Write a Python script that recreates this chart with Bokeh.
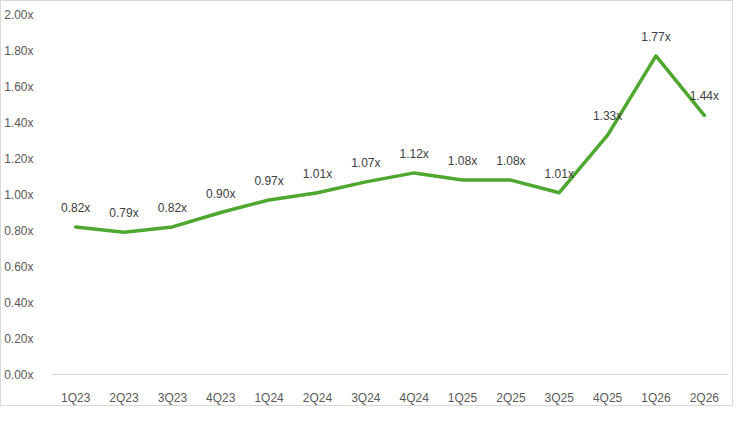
from bokeh.plotting import figure
from bokeh.models import ColumnDataSource, FactorRange, Range1d, FixedTicker, CustomJSTickFormatter, LabelSet
from bokeh.core.properties import value
from bokeh.embed import file_html
from bokeh.resources import INLINE

quarters = ["1Q23", "2Q23", "3Q23", "4Q23", "1Q24", "2Q24", "3Q24", "4Q24",
            "1Q25", "2Q25", "3Q25", "4Q25", "1Q26", "2Q26"]
multiples = [0.82, 0.79, 0.82, 0.90, 0.97, 1.01, 1.07, 1.12,
             1.08, 1.08, 1.01, 1.33, 1.77, 1.44]
y_ticks = [0.0, 0.2, 0.4, 0.6, 0.8, 1.0, 1.2, 1.4, 1.6, 1.8, 2.0]

labels = [f"{v:.2f}x" for v in multiples]
src = ColumnDataSource(dict(q=quarters, v=multiples, lab=labels))

FONT = "Liberation Sans"

p = figure(width=733, height=406, output_backend="svg", toolbar_location=None,
           x_range=FactorRange(factors=quarters, range_padding=0),
           y_range=Range1d(0, 2.0),
           min_border_left=44, min_border_right=6, min_border_top=13, min_border_bottom=30)
p.styles = {"border": "1px solid #d9d9d9"}
p.outline_line_color = None
p.xgrid.grid_line_color = None
p.ygrid.grid_line_color = None
p.background_fill_color = "white"
p.border_fill_color = "white"

p.line("q", "v", source=src, line_color="#4ea72e", line_width=3.5, line_join="round", line_cap="round")

p.add_layout(LabelSet(x="q", y="v", text="lab", source=src, text_align="center",
                      text_baseline="middle", y_offset=19, text_font=value(FONT),
                      text_font_size="12px", text_color="#404040"))

xa = p.xaxis[0]
xa.axis_line_color = "#d9d9d9"
xa.axis_line_width = 1
xa.major_tick_line_color = None
xa.minor_tick_line_color = None
xa.major_label_text_font = FONT
xa.major_label_text_font_size = "12px"
xa.major_label_text_color = "#595959"
xa.major_label_standoff = 10

ya = p.yaxis[0]
ya.ticker = FixedTicker(ticks=y_ticks)
ya.formatter = CustomJSTickFormatter(code="return tick.toFixed(2) + 'x';")
ya.axis_line_color = None
ya.major_tick_line_color = None
ya.minor_tick_line_color = None
ya.major_label_text_font = FONT
ya.major_label_text_font_size = "12px"
ya.major_label_text_color = "#595959"
ya.major_label_standoff = 12

open("out.html", "w").write(file_html(p, INLINE))
